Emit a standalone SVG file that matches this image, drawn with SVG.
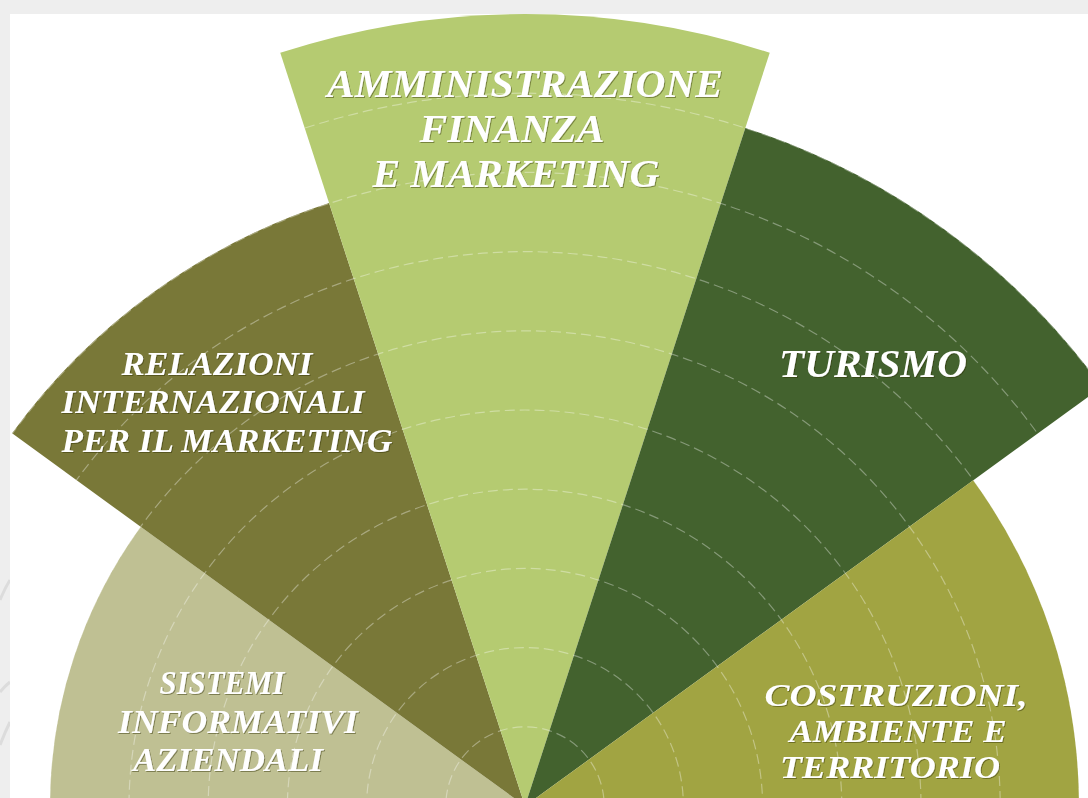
<svg xmlns="http://www.w3.org/2000/svg" width="1088" height="798" viewBox="0 0 1088 798">
<defs>
<style>
.lbl{font-family:"Liberation Serif","Times New Roman",serif;font-style:italic;font-weight:bold;fill:#ffffff;text-anchor:middle;filter:url(#sh)}
.grid{fill:none;stroke:#ffffff;stroke-opacity:0.35;stroke-width:1.2;stroke-dasharray:10 5}
.deco{fill:none;stroke:#dcdcdc;stroke-width:3}
</style>
<filter id="sh" x="-5%" y="-20%" width="110%" height="140%">
<feDropShadow dx="1" dy="1" stdDeviation="0.6" flood-color="#2a2a10" flood-opacity="0.45"/>
</filter>
<clipPath id="sectors">
<path d="M525,806 L50,806 A475,475 0 0 1 140.72,526.80 Z"/>
<path d="M525,806 L12.08,433.34 A634,634 0 0 1 329.08,203.03 Z"/>
<path d="M525,806 L280.26,52.76 A792,792 0 0 1 769.74,52.76 Z"/>
<path d="M525,806 L745.33,127.89 A713,713 0 0 1 1101.83,386.91 Z"/>
<path d="M525,806 L973.20,480.36 A554,554 0 0 1 1079,806 Z"/>
</clipPath>
</defs>
<rect x="0" y="0" width="1088" height="798" fill="#eeeeee"/>
<g id="deco">
<path class="deco" d="M0,600 Q5,588 10,580"/>
<path class="deco" d="M0,692 Q5,686 10,682"/>
<path class="deco" d="M0,745 Q5,732 10,722"/>
</g>
<rect x="10" y="14" width="1078" height="784" fill="#ffffff"/>
<g id="node-sistemi">
<path d="M525,806 L50,806 A475,475 0 0 1 140.72,526.80 Z" fill="#bfc093"/>
</g>
<g id="node-relazioni">
<path d="M525,806 L12.08,433.34 A634,634 0 0 1 329.08,203.03 Z" fill="#797838"/>
</g>
<g id="node-amministrazione">
<path d="M525,806 L280.26,52.76 A792,792 0 0 1 769.74,52.76 Z" fill="#b5cb71"/>
</g>
<g id="node-turismo">
<path d="M525,806 L745.33,127.89 A713,713 0 0 1 1101.83,386.91 Z" fill="#43622e"/>
</g>
<g id="node-costruzioni">
<path d="M525,806 L973.20,480.36 A554,554 0 0 1 1079,806 Z" fill="#a1a442"/>
</g>
<g id="connectors" clip-path="url(#sectors)">
<circle class="grid" cx="525" cy="806" r="79.2"/>
<circle class="grid" cx="525" cy="806" r="158.4"/>
<circle class="grid" cx="525" cy="806" r="237.6"/>
<circle class="grid" cx="525" cy="806" r="316.8"/>
<circle class="grid" cx="525" cy="806" r="396"/>
<circle class="grid" cx="525" cy="806" r="475.2"/>
<circle class="grid" cx="525" cy="806" r="554.4"/>
<circle class="grid" cx="525" cy="806" r="633.6"/>
<circle class="grid" cx="525" cy="806" r="712.8"/>
</g>
<g id="labels">
<text class="lbl" font-size="40" x="525" y="97" textLength="396" lengthAdjust="spacingAndGlyphs">AMMINISTRAZIONE</text>
<text class="lbl" font-size="40" x="512" y="142" textLength="185" lengthAdjust="spacingAndGlyphs">FINANZA</text>
<text class="lbl" font-size="40" x="516" y="187" textLength="287" lengthAdjust="spacingAndGlyphs">E MARKETING</text>
<text class="lbl" font-size="34" x="217" y="375" textLength="191" lengthAdjust="spacingAndGlyphs">RELAZIONI</text>
<text class="lbl" font-size="34" x="213" y="413" textLength="303" lengthAdjust="spacingAndGlyphs">INTERNAZIONALI</text>
<text class="lbl" font-size="34" x="227" y="452" textLength="331" lengthAdjust="spacingAndGlyphs">PER IL MARKETING</text>
<text class="lbl" font-size="41" x="873" y="377" textLength="188" lengthAdjust="spacingAndGlyphs">TURISMO</text>
<text class="lbl" font-size="33" x="222" y="694" textLength="125" lengthAdjust="spacingAndGlyphs">SISTEMI</text>
<text class="lbl" font-size="33" x="238" y="733" textLength="240" lengthAdjust="spacingAndGlyphs">INFORMATIVI</text>
<text class="lbl" font-size="33" x="228" y="771" textLength="190" lengthAdjust="spacingAndGlyphs">AZIENDALI</text>
<text class="lbl" font-size="32" x="896" y="706" textLength="263" lengthAdjust="spacingAndGlyphs">COSTRUZIONI,</text>
<text class="lbl" font-size="32" x="898" y="742" textLength="217" lengthAdjust="spacingAndGlyphs">AMBIENTE E</text>
<text class="lbl" font-size="32" x="890" y="778" textLength="220" lengthAdjust="spacingAndGlyphs">TERRITORIO</text>
</g>
</svg>
